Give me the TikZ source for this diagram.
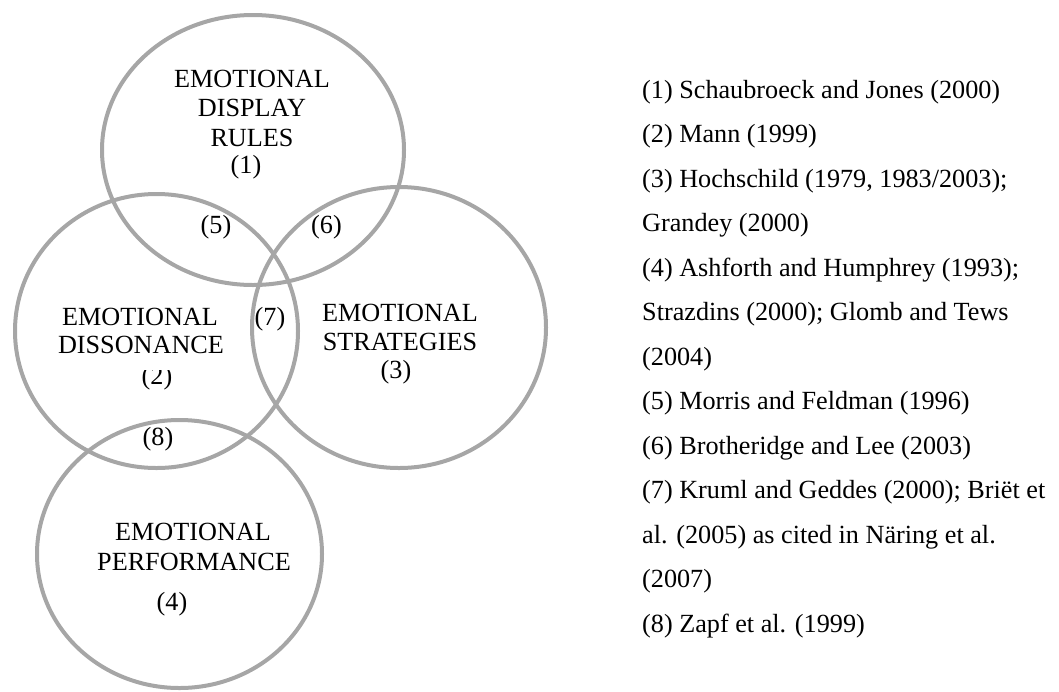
\documentclass[tikz,border=0pt]{standalone}
\usepackage{fontspec}
\setmainfont{Liberation Serif}
\definecolor{ringgray}{HTML}{A6A6A6}
\tikzset{
  ring/.style={draw=ringgray, line width=4pt},
  lbl/.style={inner sep=0pt, anchor=base, font=\fontsize{26.2}{30}\selectfont},
  ref/.style={inner sep=0pt, anchor=base west, font=\fontsize{26.2}{30}\selectfont}
}
\begin{document}
\begin{tikzpicture}[x=1pt, y=-1pt]
\useasboundingbox (0,0) rectangle (1059,691);
% circles
\coordinate (cRules) at (253,150);
\coordinate (cDiss) at (156.5,331);
\coordinate (cStrat) at (399,327.5);
\coordinate (cPerf) at (179.5,554);
\draw[ring] (cRules) ellipse [x radius=151, y radius=135];
\draw[ring] (cDiss) ellipse [x radius=141.5, y radius=137];
\draw[ring] (cStrat) ellipse [x radius=147, y radius=140.5];
\draw[ring] (cPerf) ellipse [x radius=142.5, y radius=134];
% display rules
\node[lbl] (r1) at (252,87.3) {EMOTIONAL};
\node[lbl] (r2) at (252,116.7) {DISPLAY};
\node[lbl] (r3) at (252,146.7) {RULES};
\node[lbl] (r4) at (246,173.6) {(1)};
% overlaps
\node[lbl] (o5) at (216,233.6) {(5)};
\node[lbl] (o6) at (326.5,233.6) {(6)};
\node[lbl] (o7) at (270,325.3) {(7)};
\node[lbl] (o8) at (158,445.5) {(8)};
% dissonance
\node[lbl] (d1) at (140,325) {EMOTIONAL};
\node[lbl] (d2) at (141,353) {DISSONANCE};
\begin{scope}
\clip (120,370.5) rectangle (200,400);
\node[lbl] (d3) at (157,384) {(2)};
\end{scope}
% strategies
\node[lbl] (s1) at (400,321.7) {EMOTIONAL};
\node[lbl] (s2) at (400,350) {STRATEGIES};
\node[lbl] (s3) at (396,378) {(3)};
% performance
\node[lbl] (p1) at (193,540) {EMOTIONAL};
\node[lbl] (p2) at (194,570) {PERFORMANCE};
\node[lbl] (p3) at (172,610) {(4)};
% references
\node[ref] (l1) at (642,98) {(1) Schaubroeck and Jones (2000)};
\node[ref] (l2) at (642,142.5) {(2) Mann (1999)};
\node[ref] (l3) at (642,187) {(3) Hochschild (1979, 1983/2003);};
\node[ref] (l4) at (642,231.5) {Grandey (2000)};
\node[ref] (l5) at (642,276) {(4) Ashforth and Humphrey (1993);};
\node[ref] (l6) at (642,320.5) {Strazdins (2000); Glomb and Tews};
\node[ref] (l7) at (642,365) {(2004)};
\node[ref] (l8) at (642,409.5) {(5) Morris and Feldman (1996)};
\node[ref] (l9) at (642,454) {(6) Brotheridge and Lee (2003)};
\node[ref] (l10) at (642,498.5) {(7) Kruml and Geddes (2000); Briët et};
\node[ref] (l11) at (642,543) {al. (2005) as cited in Näring et al.};
\node[ref] (l12) at (642,587.5) {(2007)};
\node[ref] (l13) at (642,632) {(8) Zapf et al. (1999)};
\end{tikzpicture}
\end{document}
